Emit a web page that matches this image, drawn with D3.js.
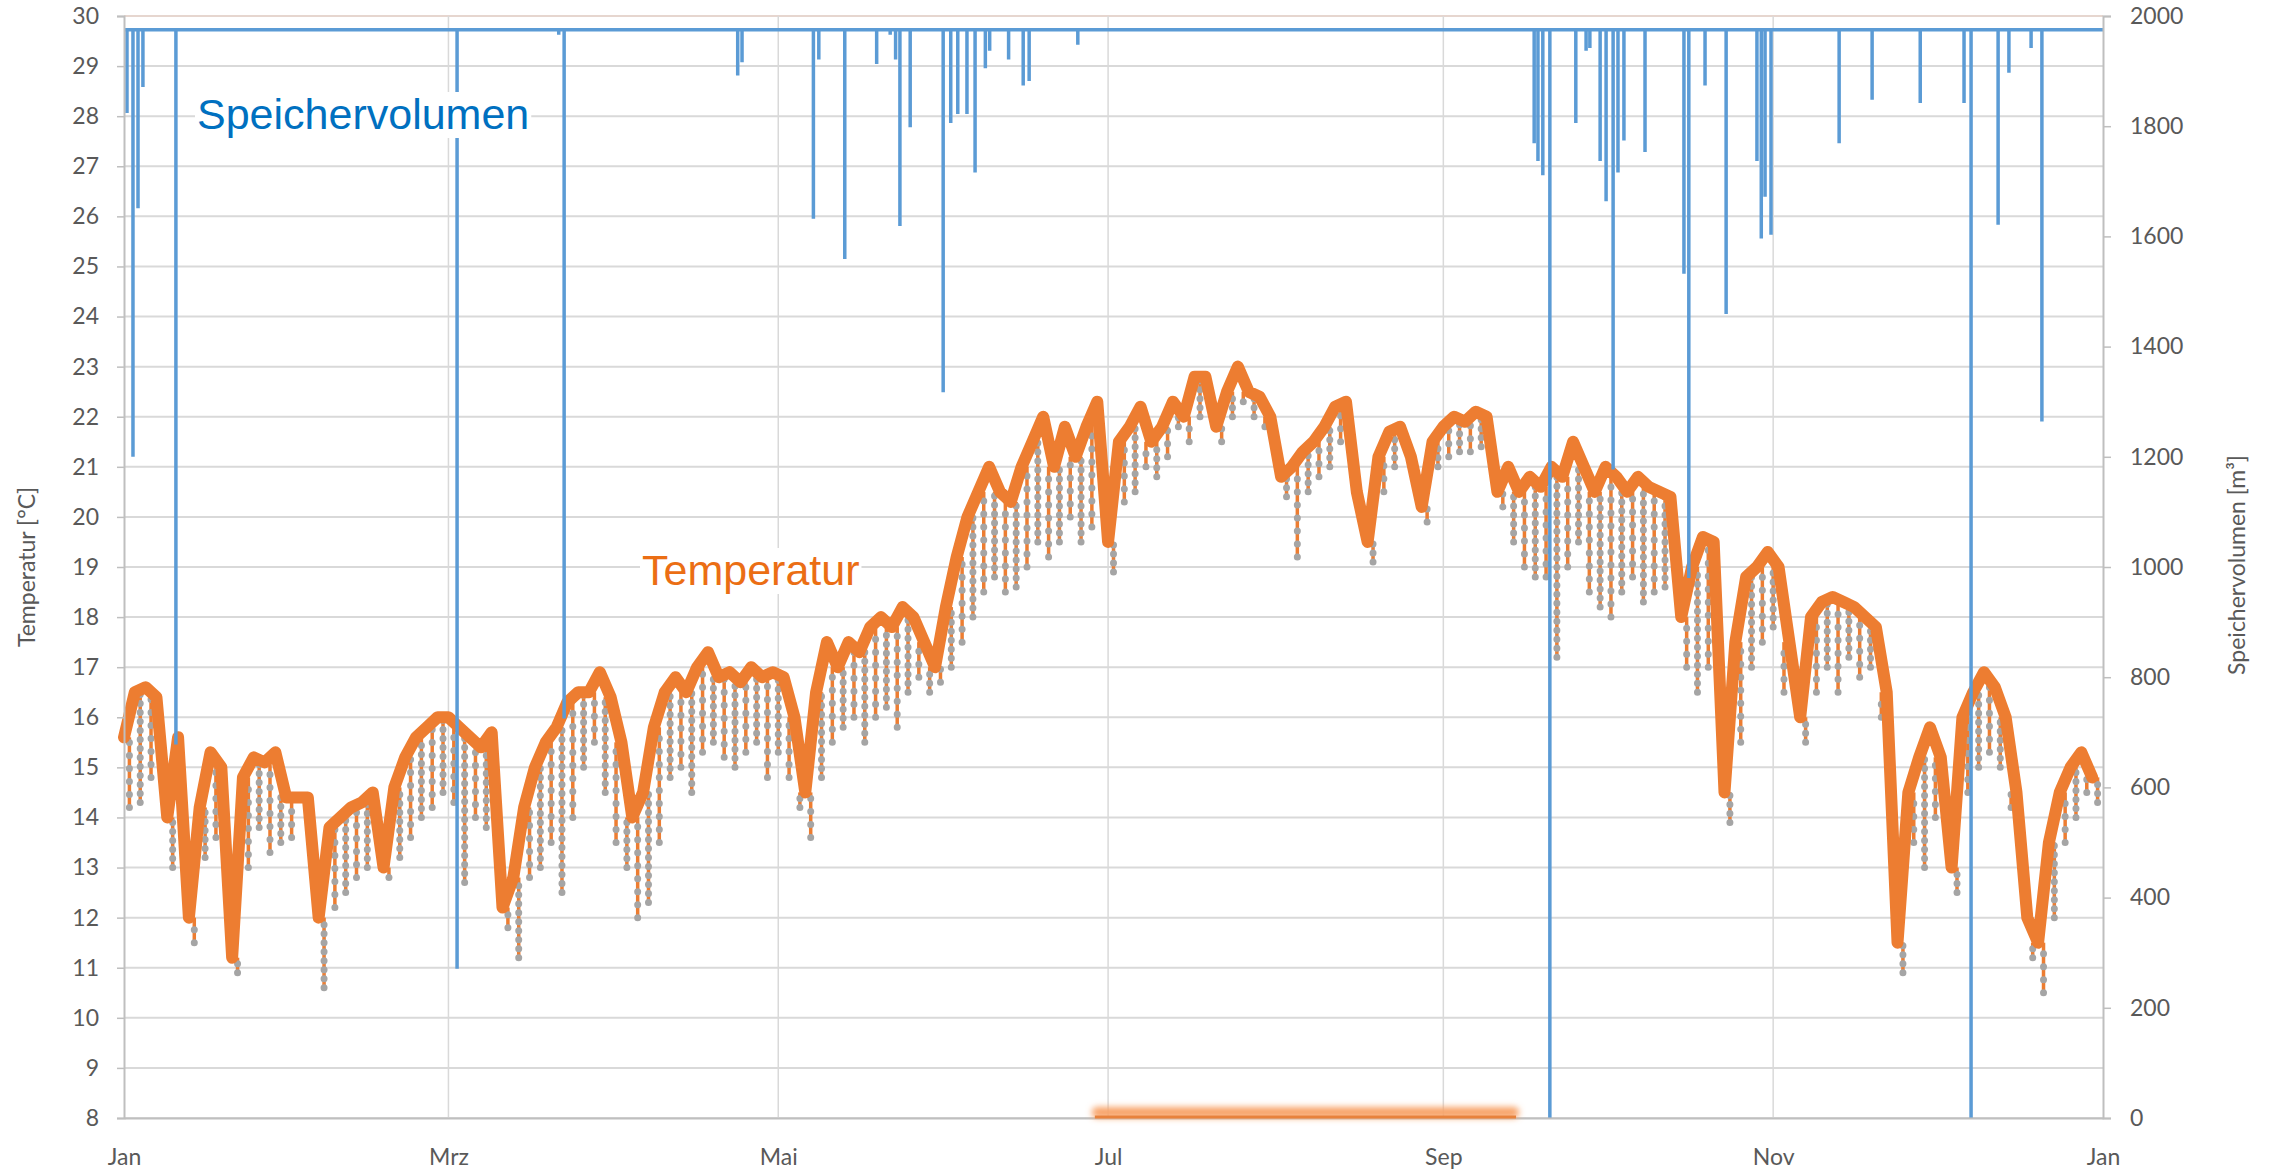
<!DOCTYPE html>
<html>
<head>
<meta charset="utf-8">
<script src="https://cdn.jsdelivr.net/npm/d3@7"></script>
<style>
	body { margin: 0; background: #fff; }
	svg text { font-family: Lato, "Open Sans", sans-serif; fill: #595959; }
</style>
</head>
<body>
<div class="chart"></div>
<script>
// DATA
const yearStart = new Date(2016, 0, 1);
const yearEnd = new Date(2017, 0, 1);
const monthLabels = ['Jan', 'Mrz', 'Mai', 'Jul', 'Sep', 'Nov', 'Jan'];
const monthTicks = [0, 2, 4, 6, 8, 10, 12].map(m => new Date(2016, m, 1));
const tempTicks = d3.range(8, 31);
const volTicks = d3.range(0, 2001, 200);

// temperature, one value pair every 2 days (upper band / daily dip)
const tempStep = 2;
const tempHigh = [
	15.6,16.5,16.6,16.4,14.0, 15.6,12.0,14.2,15.3,15.0,
	11.2,14.8,15.2,15.1,15.3, 14.4,14.4,14.4,12.0,13.8,
	14.0,14.2,14.3,14.5,13.0, 14.6,15.2,15.6,15.8,16.0,
	16.0,15.8,15.6,15.4,15.7, 12.2,12.8,14.2,15.0,15.5,
	15.8,16.3,16.5,16.5,16.9, 16.4,15.5,14.0,14.5,15.8,
	16.5,16.8,16.5,17.0,17.3, 16.8,16.9,16.7,17.0,16.8,
	16.9,16.8,16.0,14.5,16.5, 17.5,17.0,17.5,17.3,17.8,
	18.0,17.8,18.2,18.0,17.5, 17.0,18.2,19.2,20.0,20.5,
	21.0,20.5,20.3,21.0,21.5, 22.0,21.0,21.8,21.2,21.8,
	22.3,19.5,21.5,21.8,22.2, 21.5,21.8,22.3,22.0,22.8,
	22.8,21.8,22.5,23.0,22.5, 22.4,22.0,20.8,21.0,21.3,
	21.5,21.8,22.2,22.3,20.5, 19.5,21.2,21.7,21.8,21.2,
	20.2,21.5,21.8,22.0,21.9, 22.1,22.0,20.5,21.0,20.5,
	20.8,20.6,21.0,20.8,21.5, 21.0,20.5,21.0,20.8,20.5,
	20.8,20.6,20.5,20.4,18.0, 19.0,19.6,19.5,14.5,17.5,
	18.8,19.0,19.3,19.0,17.5, 16.0,18.0,18.3,18.4,18.3,
	18.2,18.0,17.8,16.5,11.5, 14.5,15.2,15.8,15.2,13.0,
	16.0,16.5,16.9,16.6,16.0, 14.5,12.0,11.5,13.5,14.5,
	15.0,15.3,14.8
];
const tempLow = [
	14.2,14.3,14.8,15.0,13.0, 13.5,11.5,13.2,13.6,12.5,
	10.9,13.0,13.8,13.3,13.5, 13.6,14.3,14.3,10.6,12.2,
	12.5,12.8,13.0,13.2,12.8, 13.2,13.6,14.0,14.2,14.5,
	14.3,12.7,14.0,13.8,14.5, 11.8,11.2,12.8,13.0,13.5,
	12.5,14.0,15.0,15.5,14.5, 13.5,13.0,12.0,12.3,13.5,
	14.8,15.0,14.5,15.3,15.5, 15.2,15.0,15.3,15.5,14.8,
	15.3,14.8,14.2,13.6,14.8, 15.5,15.8,16.0,15.5,16.0,
	16.2,15.8,16.5,16.8,16.5, 16.7,17.0,17.5,18.0,18.5,
	18.8,18.5,18.6,19.0,19.5, 19.2,19.5,20.0,19.5,19.8,
	20.0,18.9,20.3,20.5,21.0, 20.8,21.2,21.8,21.5,22.0,
	21.8,21.5,22.0,22.3,22.0, 21.8,21.5,20.4,19.2,20.5,
	20.8,21.0,21.5,21.5,19.8, 19.1,20.5,21.0,21.3,20.8,
	19.9,21.0,21.2,21.3,21.3, 21.4,21.4,20.2,19.5,19.0,
	18.8,18.8,17.2,19.0,19.5, 18.5,18.2,18.0,18.5,18.8,
	18.3,18.5,18.6,18.2,17.0, 16.5,17.0,16.8,13.9,15.5,
	17.0,17.5,17.8,16.5,16.0, 15.5,16.5,17.0,16.5,17.2,
	16.8,17.0,16.0,15.0,10.9, 13.5,13.0,14.0,13.0,12.5,
	14.5,15.0,15.3,15.0,14.2, 13.5,11.2,10.5,12.0,13.5,
	14.0,14.5,14.3
];

// storage volume: normal level plus short drops (day of year, m³)
const volFull = 1975;
const volDropDays = [
	0.55, 1.66, 2.59, 3.5, 9.6, 61.6, 80.4, 81.4, 113.5, 114.3,
	127.5, 128.5, 133.3, 139.2, 141.7, 142.7, 143.5, 145.4, 151.5, 152.9,
	154.2, 155.9, 157.4, 159.3, 160.1, 163.6, 166.3, 167.4, 176.4,
	260.8, 261.5, 262.4, 263.7, 268.5, 270.4, 271.1, 273.0, 274.1, 275.4,
	276.3, 277.4, 281.3, 288.5, 289.4, 292.4, 296.3, 302.0, 302.8, 303.5,
	304.6, 317.2, 323.3, 332.2, 340.3, 341.6, 346.6, 348.6, 352.7, 354.7
];
const volDropValues = [
	1824, 1200, 1651, 1871, 678, 271, 1966, 725, 1892, 1916,
	1632, 1921, 1559, 1913, 1966, 1921, 1619, 1798, 1317, 1806,
	1822, 1822, 1716, 1905, 1937, 1921, 1874, 1882, 1948,
	1769, 1737, 1711, 0, 1806, 1937, 1942, 1737, 1664, 1177,
	1716, 1774, 1753, 1532, 980, 1874, 1459, 1737, 1596, 1672,
	1603, 1769, 1848, 1842, 1842, 0, 1621, 1897, 1942, 1264
];

// highlighted summer period on the time axis
const highlightPeriod = [new Date(2016, 5, 28), new Date(2016, 8, 15)];

// LAYOUT
const margin = { top: 16, right: 166, bottom: 52, left: 124 };
const width = 2269 - margin.left - margin.right;
const height = 1170 - margin.top - margin.bottom;

const svg = d3.select('.chart')
	.append('svg')
		.attr('width', 2269)
		.attr('height', 1170);

const defs = svg.append('defs');
defs.append('filter')
		.attr('id', 'glow')
		.attr('x', '-10%').attr('y', '-200%')
		.attr('width', '120%').attr('height', '500%')
	.append('feGaussianBlur')
		.attr('stdDeviation', 3);

const g = svg.append('g')
	.attr('transform', `translate(${margin.left}, ${margin.top})`);

const dayToDate = d => new Date(yearStart.getTime() + d * 864e5);

const xScale = d3.scaleTime()
	.domain([yearStart, yearEnd])
	.range([0, width]);

const yTemp = d3.scaleLinear()
	.domain([8, 30])
	.range([height, 0]);

const yVol = d3.scaleLinear()
	.domain([0, 2000])
	.range([height, 0]);

// gridlines
g.append('g')
	.selectAll('line')
	.data(tempTicks)
	.enter()
	.append('line')
		.attr('x1', 0)
		.attr('x2', width)
		.attr('y1', d => yTemp(d))
		.attr('y2', d => yTemp(d))
		.attr('stroke', d => d === 30 ? '#e6d6cf' : '#d9d9d9')
		.attr('stroke-width', 2);

g.append('g')
	.selectAll('line')
	.data(monthTicks.slice(1, -1))
	.enter()
	.append('line')
		.attr('x1', d => xScale(d))
		.attr('x2', d => xScale(d))
		.attr('y1', 0)
		.attr('y2', height)
		.attr('stroke', '#d9d9d9')
		.attr('stroke-width', 1.5);

// temperature series: upper band + daily dips
const band = tempHigh.map((v, i) => ({ date: dayToDate(i * tempStep), t: v }));
const dips = tempLow.map((v, i) => ({
	date: dayToDate(i * tempStep + tempStep / 2),
	top: Math.min(tempHigh[i], i + 1 < tempHigh.length ? tempHigh[i + 1] : tempHigh[i]),
	t: v
})).filter(d => d.top - d.t > 0.15);

const tempLine = d3.line()
	.x(d => xScale(d.date))
	.y(d => yTemp(d.t));

const dipG = g.append('g');
dipG.selectAll('.dip')
	.data(dips)
	.enter()
	.append('line')
		.attr('class', 'dip')
		.attr('x1', d => xScale(d.date))
		.attr('x2', d => xScale(d.date))
		.attr('y1', d => yTemp(d.top))
		.attr('y2', d => yTemp(d.t))
		.attr('stroke', '#ed7d31')
		.attr('stroke-width', 3.5);

dipG.selectAll('.dipdots')
	.data(dips)
	.enter()
	.append('line')
		.attr('class', 'dipdots')
		.attr('x1', d => xScale(d.date))
		.attr('x2', d => xScale(d.date))
		.attr('y1', d => yTemp(d.t))
		.attr('y2', d => yTemp(d.top))
		.attr('stroke', '#a5a5a5')
		.attr('stroke-width', 7)
		.attr('stroke-linecap', 'round')
		.attr('stroke-dasharray', (d, i) => i % 2 ? '0 9' : '0 13');

g.append('path')
	.datum(band)
	.attr('fill', 'none')
	.attr('stroke', '#ed7d31')
	.attr('stroke-width', 12)
	.attr('stroke-linejoin', 'round')
	.attr('stroke-linecap', 'round')
	.attr('d', tempLine);

// storage volume series
const volPoints = [{ date: yearStart, v: volFull }];
volDropDays.forEach((day, i) => {
	const dt = dayToDate(day);
	volPoints.push({ date: dt, v: volFull });
	volPoints.push({ date: dt, v: volDropValues[i] });
	volPoints.push({ date: dt, v: volFull });
});
volPoints.push({ date: yearEnd, v: volFull });

g.append('path')
	.datum(volPoints)
	.attr('fill', 'none')
	.attr('stroke', '#5b9bd5')
	.attr('stroke-width', 3.5)
	.attr('d', d3.line()
		.x(d => xScale(d.date))
		.y(d => yVol(d.v)));

// axes
const leftAxis = g.append('g')
	.call(d3.axisLeft(yTemp).tickValues(tempTicks).tickFormat(d3.format('d')).tickSize(7).tickPadding(18));
const rightAxis = g.append('g')
	.attr('transform', `translate(${width}, 0)`)
	.call(d3.axisRight(yVol).tickValues(volTicks).tickFormat(d3.format('d')).tickSize(8).tickPadding(19));
const bottomAxis = g.append('g')
	.attr('transform', `translate(0, ${height})`)
	.call(d3.axisBottom(xScale).tickValues(monthTicks).tickFormat((d, i) => monthLabels[i]).tickSize(0).tickPadding(31));

[leftAxis, rightAxis, bottomAxis].forEach(ax => {
	ax.select('.domain').attr('stroke', '#bfbfbf').attr('stroke-width', 2);
	ax.selectAll('.tick line').attr('stroke', '#bfbfbf').attr('stroke-width', 1.5);
	ax.selectAll('.tick text')
		.style('font-size', '23px')
		.style('font-family', 'Lato, sans-serif')
		.attr('fill', '#595959');
});

// highlight bar on the time axis
const hx0 = xScale(highlightPeriod[0]);
const hx1 = xScale(highlightPeriod[1]);
g.append('rect')
	.attr('x', hx0)
	.attr('y', height - 11)
	.attr('width', hx1 - hx0)
	.attr('height', 11)
	.attr('rx', 5)
	.attr('fill', '#f8a368')
	.attr('filter', 'url(#glow)');
g.append('line')
	.attr('x1', hx0 + 3)
	.attr('x2', hx1 - 3)
	.attr('y1', height - 1)
	.attr('y2', height - 1)
	.attr('stroke', '#e8823c')
	.attr('stroke-width', 3);

// axis titles
svg.append('text')
	.attr('transform', 'translate(27, 567) rotate(-90)')
	.attr('text-anchor', 'middle')
	.attr('dy', '0.35em')
	.style('font-size', '23px')
	.text('Temperatur [°C]');

svg.append('text')
	.attr('transform', 'translate(2237, 565) rotate(-90)')
	.attr('text-anchor', 'middle')
	.attr('dy', '0.35em')
	.style('font-size', '23px')
	.text('Speichervolumen [m³]');

// series labels in white boxes
function seriesLabel(text, x, baseline, color) {
	const t = svg.append('text')
		.attr('x', x)
		.attr('y', baseline)
		.style('font-family', 'Liberation Sans, Arial, sans-serif')
		.style('font-size', '43px')
		.style('fill', color)
		.text(text);
	const bb = t.node().getBBox();
	svg.insert('rect', () => t.node())
		.attr('x', bb.x - 2)
		.attr('y', bb.y + 2)
		.attr('width', bb.width + 4)
		.attr('height', bb.height - 2)
		.attr('fill', '#fff');
}
seriesLabel('Speichervolumen', 197, 129, '#0070c0');
seriesLabel('Temperatur', 642, 585, '#eb6e14');
</script>
</body>
</html>
